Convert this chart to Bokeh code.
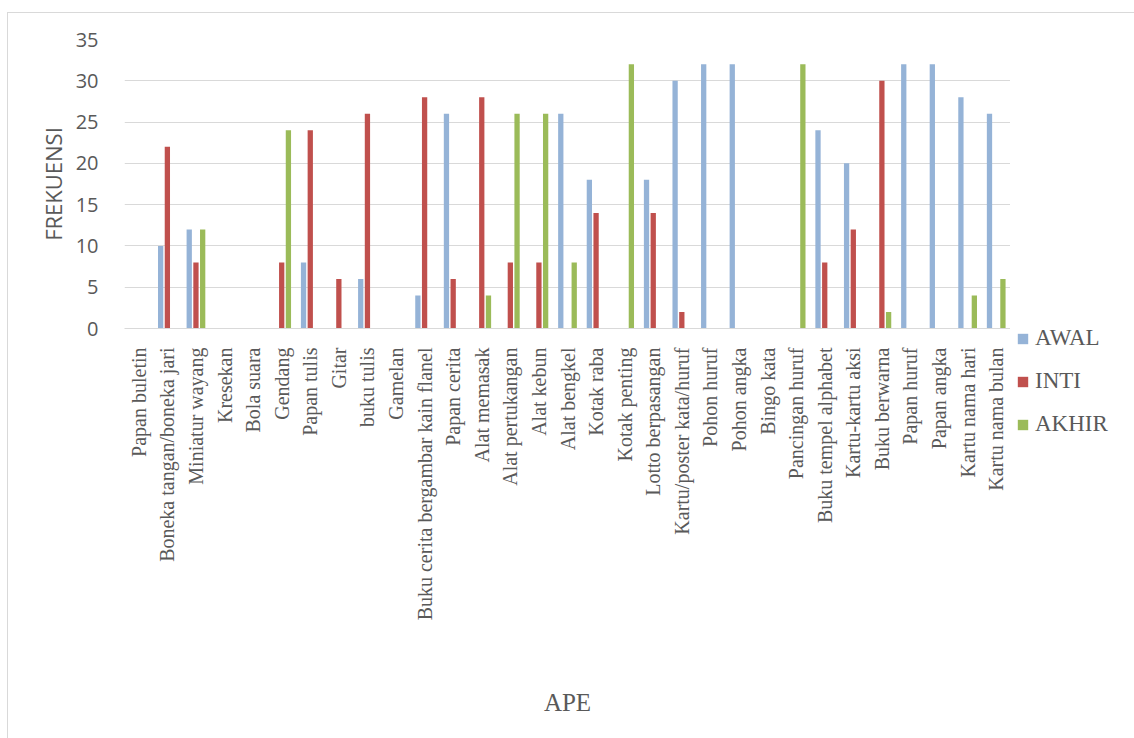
import math
from bokeh.plotting import figure
from bokeh.layouts import row
from bokeh.models import ColumnDataSource, FixedTicker, Legend, LegendItem
from bokeh.transform import dodge
from bokeh.embed import file_html
from bokeh.resources import INLINE

# APE (alat permainan edukatif) and how often each was used per stage
categories = [
    "Papan buletin", "Boneka tangan/boneka jari", "Miniatur wayang", "Kresekan",
    "Bola suara", "Gendang", "Papan tulis", "Gitar", "buku tulis", "Gamelan",
    "Buku cerita bergambar kain flanel", "Papan cerita", "Alat memasak",
    "Alat pertukangan", "Alat kebun", "Alat bengkel", "Kotak raba",
    "Kotak penting", "Lotto berpasangan", "Kartu/poster kata/huruf",
    "Pohon huruf", "Pohon angka", "Bingo kata", "Pancingan huruf",
    "Buku tempel alphabet", "Kartu-kartu aksi", "Buku berwarna", "Papan huruf",
    "Papan angka", "Kartu nama hari", "Kartu nama bulan",
]
awal = [0, 10, 12, 0, 0, 0, 8, 0, 6, 0, 4, 26, 0, 0, 0, 26, 18, 0, 18, 30,
        32, 32, 0, 0, 24, 20, 0, 32, 32, 28, 26]
inti = [0, 22, 8, 0, 0, 8, 24, 6, 26, 0, 28, 6, 28, 8, 8, 0, 14, 0, 14, 2,
        0, 0, 0, 0, 8, 12, 30, 0, 0, 0, 0]
akhir = [0, 0, 12, 0, 0, 24, 0, 0, 0, 0, 0, 0, 4, 26, 26, 8, 0, 32, 0, 0,
         0, 0, 0, 32, 0, 0, 2, 0, 0, 4, 6]
series_names = ["AWAL", "INTI", "AKHIR"]
y_ticks = [0, 5, 10, 15, 20, 25, 30, 35]

colors = ["#95B3D7", "#C0504D", "#9BBB59"]
offsets = [-0.235, 0.0, 0.235]
text_gray = "#595959"
grid_gray = "#D9D9D9"

source = ColumnDataSource(dict(cat=categories, AWAL=awal, INTI=inti, AKHIR=akhir))

p = figure(
    x_range=categories, y_range=(0, 35),
    width=1002, height=725,
    min_border_left=116, min_border_right=0,
    min_border_top=26, min_border_bottom=410,
    toolbar_location=None, output_backend="svg",
)
p.outline_line_color = None
p.background_fill_color = "white"
p.border_fill_color = "white"

for name, col, off in zip(series_names, colors, offsets):
    p.vbar(x=dodge("cat", off, range=p.x_range), top=name, width=0.185,
           source=source, fill_color=col, line_color=None)

# y axis
p.yaxis.ticker = FixedTicker(ticks=y_ticks)
p.yaxis.axis_line_color = None
p.yaxis.major_tick_line_color = None
p.yaxis.minor_tick_line_color = None
p.yaxis.major_label_text_font = "Open Sans"
p.yaxis.major_label_text_font_size = "20px"
p.yaxis.major_label_text_color = text_gray
p.yaxis.major_label_standoff = 20
p.yaxis.axis_label = "FREKUENSI"
p.yaxis.axis_label_text_font = "Open Sans"
p.yaxis.axis_label_text_font_size = "22px"
p.yaxis.axis_label_text_font_style = "normal"
p.yaxis.axis_label_text_color = text_gray
p.yaxis.axis_label_standoff = 5

# x axis
p.xaxis.axis_line_color = grid_gray
p.xaxis.axis_line_width = 1
p.xaxis.major_tick_line_color = None
p.xaxis.minor_tick_line_color = None
p.xaxis.major_label_orientation = math.pi / 2
p.xaxis.major_label_text_font = "Liberation Serif"
p.xaxis.major_label_text_font_size = "20px"
p.xaxis.major_label_text_color = text_gray
p.xaxis.major_label_standoff = 13
p.xaxis.axis_label = "APE"
p.xaxis.axis_label_text_font = "Liberation Serif"
p.xaxis.axis_label_text_font_size = "25px"
p.xaxis.axis_label_text_font_style = "normal"
p.xaxis.axis_label_text_color = text_gray
p.xaxis.axis_label_standoff = 66

p.xgrid.grid_line_color = None
p.ygrid.grid_line_color = grid_gray
p.ygrid.grid_line_width = 1

# empty strip on the right of the chart area, inside the frame line
pad = figure(width=124, height=725, x_range=(0, 1), y_range=(0, 1),
             x_axis_location=None, y_axis_location=None, min_border=0,
             toolbar_location=None, output_backend="svg")
pad.grid.grid_line_color = None
pad.outline_line_color = None

layout = row(p, pad, margin=(12, 0, 0, 7),
             styles={"border-left": "1px solid #D9D9D9",
                     "border-top": "1px solid #D9D9D9"})

# small separate plot carrying the key, pinned beside the chart's baseline;
# its series renderers sit below its visible range so only the key shows
lp = figure(width=124, height=140, x_range=categories, y_range=(100, 101),
            x_axis_location=None, y_axis_location=None, min_border=0,
            toolbar_location=None, output_backend="svg")
lp.grid.grid_line_color = None
lp.outline_line_color = None
lp.border_fill_color = None
lp.background_fill_color = None
lp.styles = {"position": "absolute", "left": "1016px", "top": "325px"}
key_renderers = []
for name, col in zip(series_names, colors):
    key_renderers.append(lp.vbar(x="cat", top=name, width=0.185, source=source,
                                 fill_color=col, line_color=None))
legend = Legend(
    items=[LegendItem(label=n, renderers=[r], index=0)
           for n, r in zip(series_names, key_renderers)],
    location="top_left",
    glyph_width=13, glyph_height=13,
    label_text_font="Liberation Serif", label_text_font_size="23px",
    label_text_color=text_gray, label_standoff=6,
    spacing=17, padding=7, margin=0,
    border_line_color=None, background_fill_alpha=0,
)
lp.add_layout(legend)

open("out.html", "w").write(file_html([layout, lp], INLINE))
